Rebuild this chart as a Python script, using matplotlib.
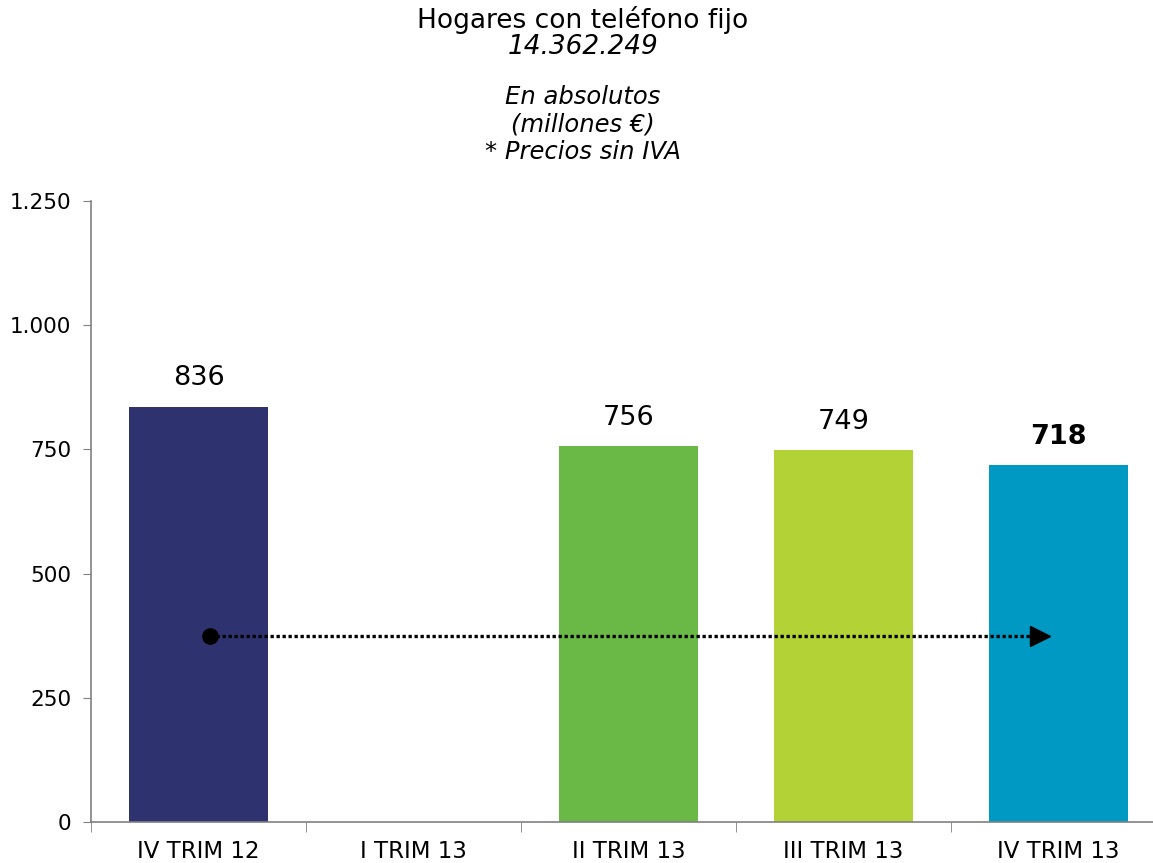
import numpy as np
import matplotlib
matplotlib.use("Agg")
import matplotlib.pyplot as plt
from matplotlib.ticker import FuncFormatter

categories = ["IV TRIM 12", "I TRIM 13", "II TRIM 13", "III TRIM 13", "IV TRIM 13"]
values = [836, np.nan, 756, 749, 718]
bar_colors = ["#2E326E", "#FFFFFF", "#6AB845", "#B2D235", "#0099C4"]
title_lines = ["Hogares con teléfono fijo", "14.362.249"]
subtitle_lines = ["En absolutos", "(millones €)", "* Precios sin IVA"]
arrow_y = 375


def thousands(v, pos):
    # spanish style: 1.250
    return "{:,.0f}".format(v).replace(",", ".")


def main():
    plt.rcParams['font.family'] = ['DejaVu Sans']
    fig = plt.figure(figsize=(11.53, 8.63), dpi=100)
    ax = fig.add_axes([91 / 1153, 41 / 863, 1075 / 1153, 621 / 863])

    x = np.arange(len(categories))
    ax.bar(x, values, width=0.65, color=bar_colors, zorder=2)

    # value labels above bars, last one in bold
    for i, v in enumerate(values):
        if np.isnan(v):
            continue
        weight = "bold" if i == len(values) - 1 else "normal"
        ax.annotate(str(int(v)), (x[i], v), xytext=(0, 11), textcoords="offset points",
                    ha="center", va="bottom", fontsize=19.5, fontweight=weight)

    # dotted arrow from first to last bar
    x_start = x[0] + 0.053
    x_end = x[-1] - 0.086
    ax.plot([x_start, x_end], [arrow_y, arrow_y], color="black", lw=2.4,
            linestyle=(0, (1, 0.8)), zorder=3)
    ax.plot([x_start], [arrow_y], "o", color="black", markersize=11, zorder=4)
    ax.plot([x_end], [arrow_y], ">", color="black", markersize=15, zorder=4)

    ax.set_xlim(-0.5, len(categories) - 0.5)
    ax.set_ylim(0, 1250)
    ax.set_yticks([0, 250, 500, 750, 1000, 1250])
    ax.yaxis.set_major_formatter(FuncFormatter(thousands))

    ax.set_xticks(x)
    ax.set_xticklabels(categories)
    ax.set_xticks(np.arange(-0.5, len(categories)), minor=True)
    ax.tick_params(axis="x", which="major", length=0, pad=13, labelsize=16.5)
    ax.tick_params(axis="x", which="minor", length=7, color="#808080", direction="out")
    ax.tick_params(axis="y", length=6, color="#808080", labelsize=15.5, pad=8)

    for side in ["top", "right"]:
        ax.spines[side].set_visible(False)
    for side in ["left", "bottom"]:
        ax.spines[side].set_color("#808080")
        ax.spines[side].set_linewidth(1.2)

    fig.text(583 / 1153, 1 - 20 / 863, title_lines[0], ha="center", va="center", fontsize=19)
    fig.text(583 / 1153, 1 - 47 / 863, title_lines[1], ha="center", va="center", fontsize=19,
             style="italic")
    for k, line in enumerate(subtitle_lines):
        fig.text(583 / 1153, 1 - (97 + 27.5 * k) / 863, line, ha="center", va="center",
                 fontsize=17.5, style="italic")

    fig.savefig("out.png", dpi=100)


if __name__ == "__main__":
    main()
